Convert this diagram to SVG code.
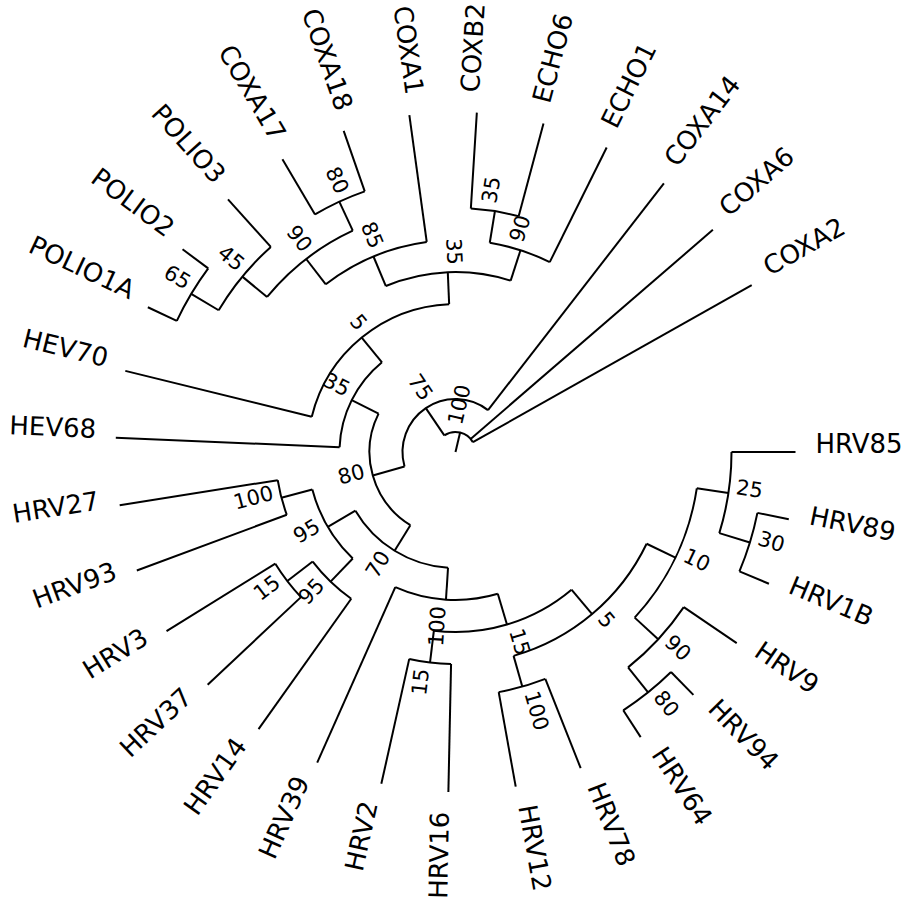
<svg xmlns="http://www.w3.org/2000/svg" width="901" height="898" viewBox="0 0 901 898">
<style>
.e{stroke:#000;stroke-width:2;fill:none}
text{font-family:"DejaVu Sans",Verdana,sans-serif;fill:#000}
.lf{font-size:26px}
.sp{font-size:21px}
.l{text-anchor:end}
</style>
<rect width="901" height="898" fill="#fff"/>
<g transform="translate(455.5,452)">
<g id="connectors" class="e">
<line x1="0" x2="20" transform="rotate(283.27)"/>
<path d="M -11.20 -16.57 A 20 20 0 0 1 17.42 -9.82"/>
<path d="M -50.97 14.52 A 53 53 0 0 1 32.48 -41.88"/>
<path d="M -45.14 73.20 A 86 86 0 0 1 -76.94 -38.42"/>
<path d="M -115.90 -4.86 A 116 116 0 0 1 -73.52 -89.73"/>
<path d="M -7.47 115.76 A 116 116 0 0 1 -100.08 58.66"/>
<path d="M -143.73 -35.30 A 148 148 0 0 1 -6.34 -147.86"/>
<path d="M -69.64 -165.98 A 180 180 0 0 1 55.18 -171.33"/>
<path d="M -129.73 -167.68 A 212 212 0 0 1 -28.77 -210.04"/>
<path d="M 34.26 -209.21 A 212 212 0 0 1 94.26 -189.89"/>
<path d="M -188.40 -155.05 A 244 244 0 0 1 -102.73 -221.32"/>
<path d="M 15.32 -243.52 A 244 244 0 0 1 63.15 -235.69"/>
<path d="M -236.82 -141.76 A 276 276 0 0 1 -184.68 -205.11"/>
<path d="M -140.50 -237.56 A 276 276 0 0 1 -90.77 -260.65"/>
<path d="M -278.69 -131.14 A 308 308 0 0 1 -247.27 -183.64"/>
<path d="M 42.31 141.82 A 148 148 0 0 1 -60.20 135.21"/>
<path d="M -102.72 106.55 A 148 148 0 0 1 -143.16 37.56"/>
<path d="M 116.00 137.64 A 180 180 0 0 1 -21.63 178.70"/>
<path d="M 191.11 91.77 A 212 212 0 0 1 58.08 203.89"/>
<path d="M -4.44 211.95 A 212 212 0 0 1 -46.25 206.90"/>
<path d="M 89.82 226.87 A 244 244 0 0 1 43.21 240.14"/>
<path d="M 241.29 36.28 A 244 244 0 0 1 179.17 165.63"/>
<path d="M 276 0 A 276 276 0 0 1 263.80 81.16"/>
<path d="M 228.27 155.13 A 276 276 0 0 1 172.57 215.40"/>
<path d="M 301.92 60.88 A 308 308 0 0 1 283.93 119.36"/>
<path d="M 215.50 220.06 A 308 308 0 0 1 167.75 258.31"/>
<path d="M -168.71 62.74 A 180 180 0 0 1 -177.78 28.16"/>
<path d="M -104.27 146.72 A 180 180 0 0 1 -142.80 109.58"/>
<path d="M -154.54 145.12 A 212 212 0 0 1 -180.18 111.72"/>
<line x1="20" x2="53" transform="rotate(235.949)"/>
<line x1="20" x2="340" transform="rotate(319.2)"/>
<line x1="20" x2="340" transform="rotate(330.6)"/>
<line x1="53" x2="86" transform="rotate(164.098)"/>
<line x1="53" x2="340" transform="rotate(307.8)"/>
<line x1="86" x2="116" transform="rotate(206.536)"/>
<line x1="86" x2="116" transform="rotate(121.66)"/>
<line x1="116" x2="340" transform="rotate(182.4)"/>
<line x1="116" x2="148" transform="rotate(230.672)"/>
<line x1="148" x2="340" transform="rotate(193.8)"/>
<line x1="148" x2="180" transform="rotate(267.544)"/>
<line x1="180" x2="212" transform="rotate(247.2375)"/>
<line x1="180" x2="212" transform="rotate(287.85)"/>
<line x1="212" x2="244" transform="rotate(232.275)"/>
<line x1="212" x2="340" transform="rotate(262.2)"/>
<line x1="244" x2="276" transform="rotate(219.45)"/>
<line x1="244" x2="276" transform="rotate(245.1)"/>
<line x1="276" x2="308" transform="rotate(210.9)"/>
<line x1="276" x2="340" transform="rotate(228)"/>
<line x1="308" x2="340" transform="rotate(205.2)"/>
<line x1="308" x2="340" transform="rotate(216.6)"/>
<line x1="276" x2="340" transform="rotate(239.4)"/>
<line x1="276" x2="340" transform="rotate(250.8)"/>
<line x1="212" x2="244" transform="rotate(279.3)"/>
<line x1="212" x2="340" transform="rotate(296.4)"/>
<line x1="244" x2="340" transform="rotate(273.6)"/>
<line x1="244" x2="340" transform="rotate(285)"/>
<line x1="116" x2="148" transform="rotate(93.694)"/>
<line x1="116" x2="148" transform="rotate(149.625)"/>
<line x1="148" x2="340" transform="rotate(114)"/>
<line x1="148" x2="180" transform="rotate(73.3875)"/>
<line x1="180" x2="212" transform="rotate(96.9)"/>
<line x1="180" x2="212" transform="rotate(49.875)"/>
<line x1="212" x2="340" transform="rotate(91.2)"/>
<line x1="212" x2="340" transform="rotate(102.6)"/>
<line x1="212" x2="244" transform="rotate(74.1)"/>
<line x1="212" x2="244" transform="rotate(25.65)"/>
<line x1="244" x2="340" transform="rotate(79.8)"/>
<line x1="244" x2="340" transform="rotate(68.4)"/>
<line x1="244" x2="276" transform="rotate(8.55)"/>
<line x1="244" x2="276" transform="rotate(42.75)"/>
<line x1="276" x2="340" transform="rotate(0)"/>
<line x1="276" x2="308" transform="rotate(17.1)"/>
<line x1="308" x2="340" transform="rotate(11.4)"/>
<line x1="308" x2="340" transform="rotate(22.8)"/>
<line x1="276" x2="340" transform="rotate(34.2)"/>
<line x1="276" x2="308" transform="rotate(51.3)"/>
<line x1="308" x2="340" transform="rotate(45.6)"/>
<line x1="308" x2="340" transform="rotate(57)"/>
<line x1="148" x2="180" transform="rotate(165.3)"/>
<line x1="148" x2="180" transform="rotate(133.95)"/>
<line x1="180" x2="340" transform="rotate(171)"/>
<line x1="180" x2="340" transform="rotate(159.6)"/>
<line x1="180" x2="212" transform="rotate(142.5)"/>
<line x1="180" x2="340" transform="rotate(125.4)"/>
<line x1="212" x2="340" transform="rotate(136.8)"/>
<line x1="212" x2="340" transform="rotate(148.2)"/>
</g>
<g id="leaf-HRV85"><text class="lf" x="360" y="1" transform="rotate(0)">HRV85</text></g>
<g id="leaf-HRV89"><text class="lf" x="360" y="1" transform="rotate(11.4)">HRV89</text></g>
<g id="leaf-HRV1B"><text class="lf" x="360" y="1" transform="rotate(22.8)">HRV1B</text></g>
<g id="leaf-HRV9"><text class="lf" x="360" y="1" transform="rotate(34.2)">HRV9</text></g>
<g id="leaf-HRV94"><text class="lf" x="360" y="1" transform="rotate(45.6)">HRV94</text></g>
<g id="leaf-HRV64"><text class="lf" x="360" y="1" transform="rotate(57)">HRV64</text></g>
<g id="leaf-HRV78"><text class="lf" x="360" y="1" transform="rotate(68.4)">HRV78</text></g>
<g id="leaf-HRV12"><text class="lf" x="360" y="1" transform="rotate(79.8)">HRV12</text></g>
<g id="leaf-HRV16"><text class="lf l" x="-360" y="1" transform="rotate(-88.8)">HRV16</text></g>
<g id="leaf-HRV2"><text class="lf l" x="-360" y="1" transform="rotate(-77.4)">HRV2</text></g>
<g id="leaf-HRV39"><text class="lf l" x="-360" y="1" transform="rotate(-66)">HRV39</text></g>
<g id="leaf-HRV14"><text class="lf l" x="-360" y="1" transform="rotate(-54.6)">HRV14</text></g>
<g id="leaf-HRV37"><text class="lf l" x="-360" y="1" transform="rotate(-43.2)">HRV37</text></g>
<g id="leaf-HRV3"><text class="lf l" x="-360" y="1" transform="rotate(-31.8)">HRV3</text></g>
<g id="leaf-HRV93"><text class="lf l" x="-360" y="1" transform="rotate(-20.4)">HRV93</text></g>
<g id="leaf-HRV27"><text class="lf l" x="-360" y="1" transform="rotate(-9)">HRV27</text></g>
<g id="leaf-HEV68"><text class="lf l" x="-360" y="1" transform="rotate(2.4)">HEV68</text></g>
<g id="leaf-HEV70"><text class="lf l" x="-360" y="1" transform="rotate(13.8)">HEV70</text></g>
<g id="leaf-POLIO1A"><text class="lf l" x="-360" y="1" transform="rotate(25.2)">POLIO1A</text></g>
<g id="leaf-POLIO2"><text class="lf l" x="-360" y="1" transform="rotate(36.6)">POLIO2</text></g>
<g id="leaf-POLIO3"><text class="lf l" x="-360" y="1" transform="rotate(48)">POLIO3</text></g>
<g id="leaf-COXA17"><text class="lf l" x="-360" y="1" transform="rotate(59.4)">COXA17</text></g>
<g id="leaf-COXA18"><text class="lf l" x="-360" y="1" transform="rotate(70.8)">COXA18</text></g>
<g id="leaf-COXA1"><text class="lf l" x="-360" y="1" transform="rotate(82.2)">COXA1</text></g>
<g id="leaf-COXB2"><text class="lf" x="360" y="1" transform="rotate(273.6)">COXB2</text></g>
<g id="leaf-ECHO6"><text class="lf" x="360" y="1" transform="rotate(285)">ECHO6</text></g>
<g id="leaf-ECHO1"><text class="lf" x="360" y="1" transform="rotate(296.4)">ECHO1</text></g>
<g id="leaf-COXA14"><text class="lf" x="360" y="1" transform="rotate(307.8)">COXA14</text></g>
<g id="leaf-COXA6"><text class="lf" x="360" y="1" transform="rotate(319.2)">COXA6</text></g>
<g id="leaf-COXA2"><text class="lf" x="360" y="1" transform="rotate(330.6)">COXA2</text></g>
<g id="node-root"><text class="sp" x="27" transform="rotate(283.27)">100</text></g>
<g id="node-X"><text class="sp l" x="-60" transform="rotate(55.949)">75</text></g>
<g id="node-Y"><text class="sp l" x="-93" transform="rotate(-15.902)">80</text></g>
<g id="node-Z1"><text class="sp l" x="-123" transform="rotate(26.536)">35</text></g>
<g id="node-Z2"><text class="sp l" x="-123" transform="rotate(-58.34)">70</text></g>
<g id="node-W"><text class="sp l" x="-155" transform="rotate(50.672)">5</text></g>
<g id="node-V"><text class="sp l" x="-187" transform="rotate(87.544)">35</text></g>
<g id="node-U1"><text class="sp l" x="-219" transform="rotate(67.2375)">85</text></g>
<g id="node-U2"><text class="sp" x="219" transform="rotate(287.85)">90</text></g>
<g id="node-T"><text class="sp l" x="-251" transform="rotate(52.275)">90</text></g>
<g id="node-O"><text class="sp" x="251" transform="rotate(279.3)">35</text></g>
<g id="node-Q"><text class="sp l" x="-283" transform="rotate(39.45)">45</text></g>
<g id="node-S"><text class="sp l" x="-283" transform="rotate(65.1)">80</text></g>
<g id="node-P"><text class="sp l" x="-315" transform="rotate(30.9)">65</text></g>
<g id="node-N"><text class="sp l" x="-155" transform="rotate(-86.306)">100</text></g>
<g id="node-M"><text class="sp l" x="-155" transform="rotate(-30.375)">95</text></g>
<g id="node-H"><text class="sp" x="187" transform="rotate(73.3875)">15</text></g>
<g id="node-F"><text class="sp l" x="-219" transform="rotate(-83.1)">15</text></g>
<g id="node-G"><text class="sp" x="219" transform="rotate(49.875)">5</text></g>
<g id="node-D"><text class="sp" x="251" transform="rotate(74.1)">100</text></g>
<g id="node-C"><text class="sp" x="251" transform="rotate(25.65)">10</text></g>
<g id="node-B"><text class="sp" x="283" transform="rotate(8.55)">25</text></g>
<g id="node-I"><text class="sp" x="283" transform="rotate(42.75)">90</text></g>
<g id="node-A"><text class="sp" x="315" transform="rotate(17.1)">30</text></g>
<g id="node-E"><text class="sp" x="315" transform="rotate(51.3)">80</text></g>
<g id="node-L"><text class="sp l" x="-187" transform="rotate(-14.7)">100</text></g>
<g id="node-K"><text class="sp l" x="-187" transform="rotate(-46.05)">95</text></g>
<g id="node-J"><text class="sp l" x="-219" transform="rotate(-37.5)">15</text></g>
</g>
</svg>
